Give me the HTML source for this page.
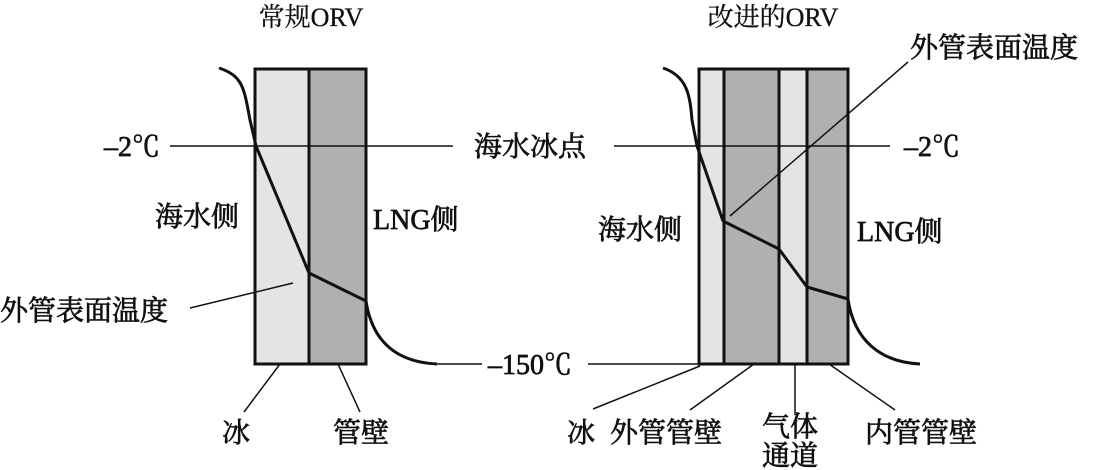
<!DOCTYPE html>
<html><head><meta charset="utf-8"><style>
html,body{margin:0;padding:0;background:#fff;}
svg{display:block;}
text{font-family:"Liberation Serif","Noto Serif CJK SC","Noto Sans CJK SC",serif;fill:#111;}
</style></head><body>
<svg width="1093" height="470" viewBox="0 0 1093 470" xmlns="http://www.w3.org/2000/svg">
<g font-size="26" stroke="#111" stroke-width="0.3">
<text x="311" y="26" text-anchor="middle">常规ORV</text>
<text x="773" y="26" text-anchor="middle">改进的ORV</text>
</g>
<rect x="255" y="69" width="54" height="295" fill="#e4e4e4"/>
<rect x="309" y="69" width="57" height="295" fill="#b0b0b0"/>
<rect x="255" y="69" width="111" height="295" fill="none" stroke="#111" stroke-width="3"/>
<line x1="309" y1="69" x2="309" y2="364" stroke="#111" stroke-width="3"/>
<rect x="699" y="69" width="25" height="295" fill="#e4e4e4"/>
<rect x="724" y="69" width="55" height="295" fill="#b0b0b0"/>
<rect x="779" y="69" width="28" height="295" fill="#e4e4e4"/>
<rect x="807" y="69" width="41" height="295" fill="#b0b0b0"/>
<rect x="699" y="69" width="149" height="295" fill="none" stroke="#111" stroke-width="3"/>
<g stroke="#111" stroke-width="3">
<line x1="724" y1="69" x2="724" y2="364"/><line x1="779" y1="69" x2="779" y2="364"/><line x1="807" y1="69" x2="807" y2="364"/>
</g>
<g stroke="#111" stroke-width="1.5" fill="none">
<line x1="170" y1="146" x2="453" y2="146"/>
<line x1="614" y1="146" x2="890" y2="146"/>
<line x1="437" y1="364" x2="482" y2="364"/>
<line x1="588" y1="364" x2="700" y2="364"/>
<line x1="190" y1="308" x2="293" y2="283"/>
<line x1="280" y1="364" x2="244" y2="412"/>
<line x1="338" y1="364" x2="360" y2="412"/>
<line x1="730" y1="216" x2="908" y2="62"/>
<line x1="700" y1="366" x2="593" y2="409"/>
<line x1="754" y1="364" x2="690" y2="410"/>
<line x1="795" y1="364" x2="795" y2="415"/>
<line x1="829" y1="364" x2="895" y2="410"/>
</g>
<g stroke="#111" stroke-width="3" fill="none" stroke-linejoin="round">
<path d="M219 68 C243 76 244 88 250 120 L256 146 L309 273 L366 301 C372 340 395 362 437 364"/>
<path d="M663 68 C687 76 690 95 692 120 L697 146 L723 221 L779 249 L807 287 L848 299 C854 340 880 362 920 364"/>
</g>
<g font-size="28" stroke="#111" stroke-width="0.7">
<text x="104" y="156">–2℃</text>
<text x="474" y="156">海水冰点</text>
<text x="904" y="156">–2℃</text>
<text x="155" y="226">海水侧</text>
<text x="373" y="229">LNG侧</text>
<text x="0" y="320">外管表面温度</text>
<text x="598" y="239">海水侧</text>
<text x="857" y="241">LNG侧</text>
<text x="910" y="57">外管表面温度</text>
<text x="488" y="374">–150℃</text>
<text x="222" y="442">冰</text>
<text x="333" y="442">管壁</text>
<text x="567" y="442">冰</text>
<text x="610" y="442">外管管壁</text>
<text x="762" y="436">气体</text>
<text x="762" y="465">通道</text>
<text x="865" y="442">内管管壁</text>
</g>
</svg>
</body></html>
